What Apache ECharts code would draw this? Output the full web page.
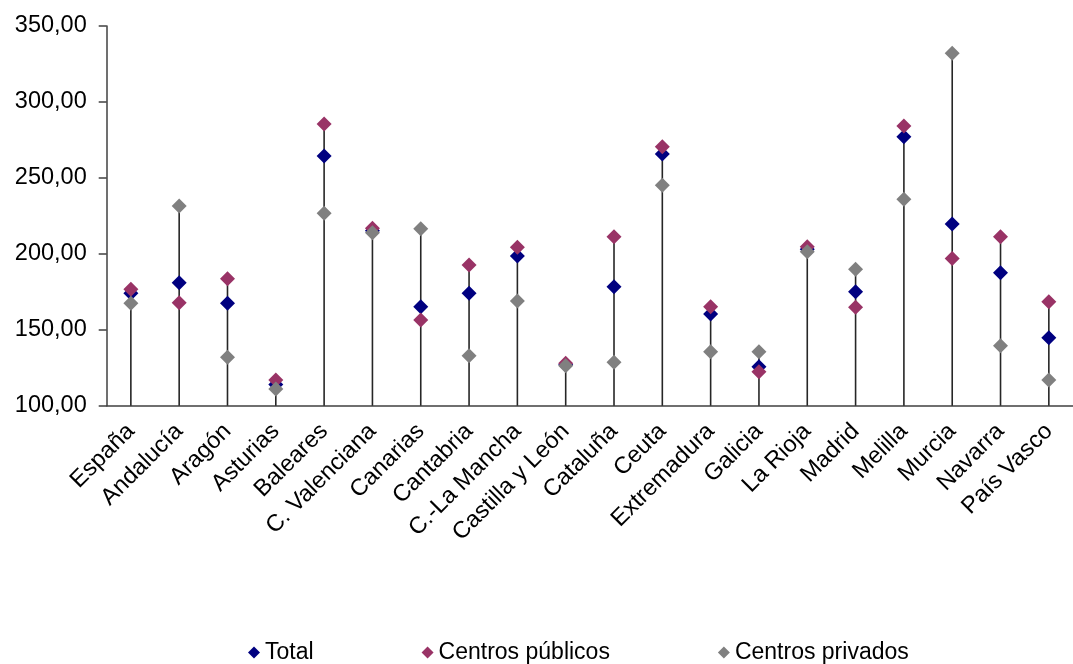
<!DOCTYPE html>
<html>
<head>
<meta charset="utf-8">
<script src="https://cdn.jsdelivr.net/npm/echarts@6/dist/echarts.min.js"></script>
<style>
html,body{margin:0;padding:0;background:#fff;}
#chart{width:1073px;height:664px;}
</style>
</head>
<body>
<div id="chart"></div>
<script>
const categories = ['España','Andalucía','Aragón','Asturias','Baleares','C. Valenciana','Canarias','Cantabria','C.-La Mancha','Castilla y León','Cataluña','Ceuta','Extremadura','Galicia','La Rioja','Madrid','Melilla','Murcia','Navarra','País Vasco'];
const total    = [174.0, 181.0, 167.4, 114.0, 264.4, 215.2, 165.2, 174.0, 198.6, 127.0, 178.3, 265.7, 160.4, 125.7, 203.0, 175.0, 277.1, 219.6, 187.6, 144.8];
const publicos = [176.6, 167.8, 183.6, 116.9, 285.4, 216.8, 156.4, 192.6, 204.3, 127.9, 211.3, 270.5, 165.2, 122.4, 204.7, 164.8, 284.1, 197.0, 211.3, 168.5];
const privados = [167.4, 231.5, 131.9, 111.0, 226.7, 213.9, 216.5, 132.9, 168.9, 126.3, 128.6, 245.1, 135.5, 135.5, 201.4, 189.8, 235.9, 332.0, 139.5, 116.9];
const yTicks = [100, 150, 200, 250, 300, 350];

const dropTops = categories.map((c, i) => [i, Math.max(total[i], publicos[i], privados[i])]);

const chart = echarts.init(document.getElementById('chart'));
const font = 'Liberation Sans, Arial, sans-serif';
chart.setOption({
  animation: false,
  backgroundColor: '#ffffff',
  grid: { left: 106.7, top: 26, width: 980, height: 379.7, containLabel: false },
  legend: {
    data: ['Total', 'Centros públicos', 'Centros privados'],
    left: 243, top: 636,
    icon: 'diamond', itemWidth: 12, itemHeight: 12, itemGap: 108,
    textStyle: { fontFamily: font, fontSize: 23, color: '#000' }
  },
  xAxis: {
    type: 'category', data: categories, boundaryGap: true,
    axisLine: { show: true, lineStyle: { color: '#404040', width: 1.5 } },
    axisTick: { show: false },
    axisLabel: { rotate: 45, interval: 0, margin: 22, fontFamily: font, fontSize: 23.5, color: '#000' },
    splitLine: { show: false }
  },
  yAxis: {
    type: 'value', min: yTicks[0], max: yTicks[yTicks.length - 1], interval: 50,
    axisLine: { show: true, lineStyle: { color: '#404040', width: 1.5 } },
    axisTick: { show: true, inside: false, length: 8, lineStyle: { color: '#404040', width: 1.5 } },
    axisLabel: { margin: 20, fontFamily: font, fontSize: 23.5, color: '#000',
      formatter: v => v.toFixed(2).replace('.', ',') },
    splitLine: { show: false }
  },
  series: [
    {
      type: 'custom', name: 'drop', silent: true, z: 1,
      data: dropTops,
      renderItem: function (params, api) {
        const top = api.coord([api.value(0), api.value(1)]);
        const bottom = api.coord([api.value(0), yTicks[0]]);
        return { type: 'line', shape: { x1: top[0], y1: top[1], x2: bottom[0], y2: bottom[1] },
                 style: { stroke: '#262626', lineWidth: 1.6 } };
      }
    },
    { type: 'scatter', name: 'Total', data: total, symbol: 'diamond', symbolSize: 15, z: 2,
      itemStyle: { color: '#000080', opacity: 1 } },
    { type: 'scatter', name: 'Centros públicos', data: publicos, symbol: 'diamond', symbolSize: 15, z: 3,
      itemStyle: { color: '#993366', opacity: 1 } },
    { type: 'scatter', name: 'Centros privados', data: privados, symbol: 'diamond', symbolSize: 15, z: 4,
      itemStyle: { color: '#808080', opacity: 1 } }
  ]
});
</script>
</body>
</html>
